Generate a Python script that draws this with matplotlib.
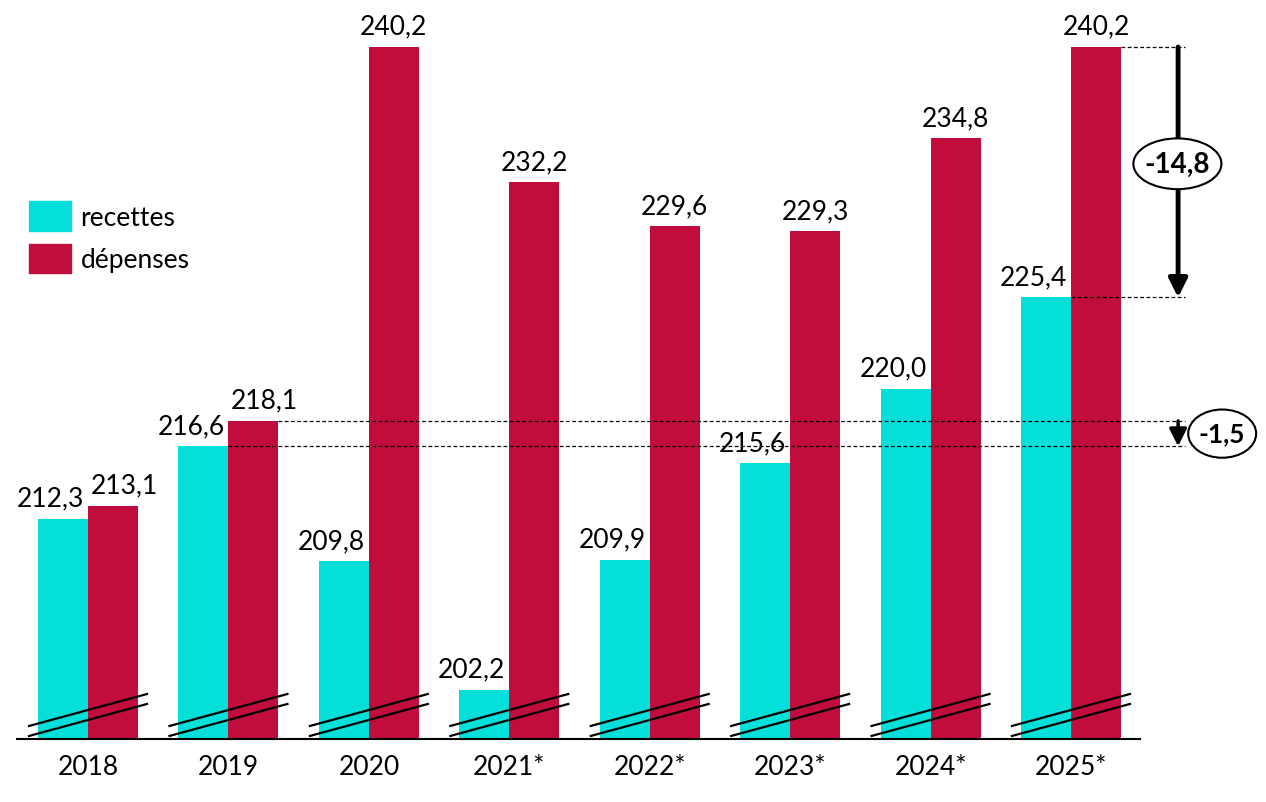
import matplotlib.pyplot as plt
from matplotlib.patches import Patch, Ellipse

# Daten
annees = ['2018', '2019', '2020', '2021*', '2022*', '2023*', '2024*', '2025*']
recettes = [212.3, 216.6, 209.8, 202.2, 209.9, 215.6, 220.0, 225.4]
depenses = [213.1, 218.1, 240.2, 232.2, 229.6, 229.3, 234.8, 240.2]

c_rec = '#04DFD9'
c_dep = '#C00D3C'
plt.rcParams['font.family'] = ['Lato', 'DejaVu Sans']
fs = 19


def fmt(v):
    return '{:.1f}'.format(v).replace('.', ',')


fig = plt.figure(figsize=(12.66, 8.03), dpi=100)
ax = fig.add_axes([0, 63 / 803, 1, 740 / 803])
ymin, ymax = 199.3, 243.04
ax.set_xlim(-0.627, 8.389)
ax.set_ylim(ymin, ymax)

w = 0.356
xs = list(range(len(annees)))
b1 = ax.bar([x - w / 2 for x in xs], recettes, w, color=c_rec, zorder=2)
b2 = ax.bar([x + w / 2 for x in xs], depenses, w, color=c_dep, zorder=2)

# Werte ueber den Balken (recettes leicht nach links, depenses nach rechts wenn es eng wird)
for r, v in zip(b1, recettes):
    ax.annotate(fmt(v), (r.get_x() + r.get_width() / 2, v), xytext=(-9, 6),
                textcoords='offset points', ha='center', va='bottom', fontsize=fs)
for r, v, vr in zip(b2, depenses, recettes):
    dx = 8 if abs(v - vr) < 3 else 0
    ax.annotate(fmt(v), (r.get_x() + r.get_width() / 2, v), xytext=(dx, 6),
                textcoords='offset points', ha='center', va='bottom', fontsize=fs)

# Achsenbruch-Markierungen
for x in xs:
    for y0, y1 in ((0.77, 2.66), (0.18, 2.07)):
        ax.plot([x - 0.42, x + 0.42], [ymin + y0, ymin + y1], color='black', lw=1.6, zorder=3)

# Achse
for s in ['top', 'right', 'left']:
    ax.spines[s].set_visible(False)
ax.spines['bottom'].set_bounds(-0.506, 7.49)
ax.spines['bottom'].set_linewidth(1.5)
ax.set_yticks([])
ax.set_xticks(xs, annees, fontsize=fs)
ax.tick_params(axis='x', length=0, pad=11)

# Differenzen
xa = 7.763
xe = 7.813
last = len(annees) - 1
# 2025
ax.plot([last + w, xe], [depenses[last]] * 2, 'k--', lw=0.9, dashes=(3, 2), zorder=3)
ax.plot([last, xe], [recettes[last]] * 2, 'k--', lw=0.9, dashes=(3, 2), zorder=3)
ax.annotate('', xy=(xa, recettes[last]), xytext=(xa, depenses[last]),
            arrowprops=dict(arrowstyle='-|>', lw=3.5, color='black', mutation_scale=28,
                            shrinkA=0, shrinkB=0))
ym = (recettes[last] + depenses[last]) / 2 + 0.5
ax.add_patch(Ellipse((xa - 0.005, ym), 0.627, 3.0, fc='white', ec='black', lw=1.5, zorder=4))
ax.text(xa - 0.005, ym, fmt(recettes[last] - depenses[last]),
        ha='center', va='center', fontsize=20, fontweight='bold', zorder=5)
# 2019
ax.plot([1 + w, xe], [depenses[1]] * 2, 'k--', lw=0.9, dashes=(3, 2), zorder=3)
ax.plot([1, xe], [recettes[1]] * 2, 'k--', lw=0.9, dashes=(3, 2), zorder=3)
ax.annotate('', xy=(xa, recettes[1]), xytext=(xa, depenses[1]),
            arrowprops=dict(arrowstyle='-|>', lw=2.5, color='black', mutation_scale=26,
                            shrinkA=0, shrinkB=0))
ym = (recettes[1] + depenses[1]) / 2
ax.add_patch(Ellipse((8.077, ym), 0.484, 2.85, fc='white', ec='black', lw=1.5, zorder=4))
ax.text(8.077, ym, fmt(recettes[1] - depenses[1]),
        ha='center', va='center', fontsize=19, fontweight='bold', zorder=5)

# Legende
ax.legend(handles=[Patch(color=c_rec, label='recettes'), Patch(color=c_dep, label='dépenses')],
          loc='upper left', bbox_to_anchor=(29 / 1266, 1 - 202 / 740), frameon=False,
          fontsize=fs, borderpad=0, borderaxespad=0, handlelength=1.6, handleheight=1.35,
          handletextpad=0.35, labelspacing=0.5)

plt.savefig('out.png', dpi=100)
